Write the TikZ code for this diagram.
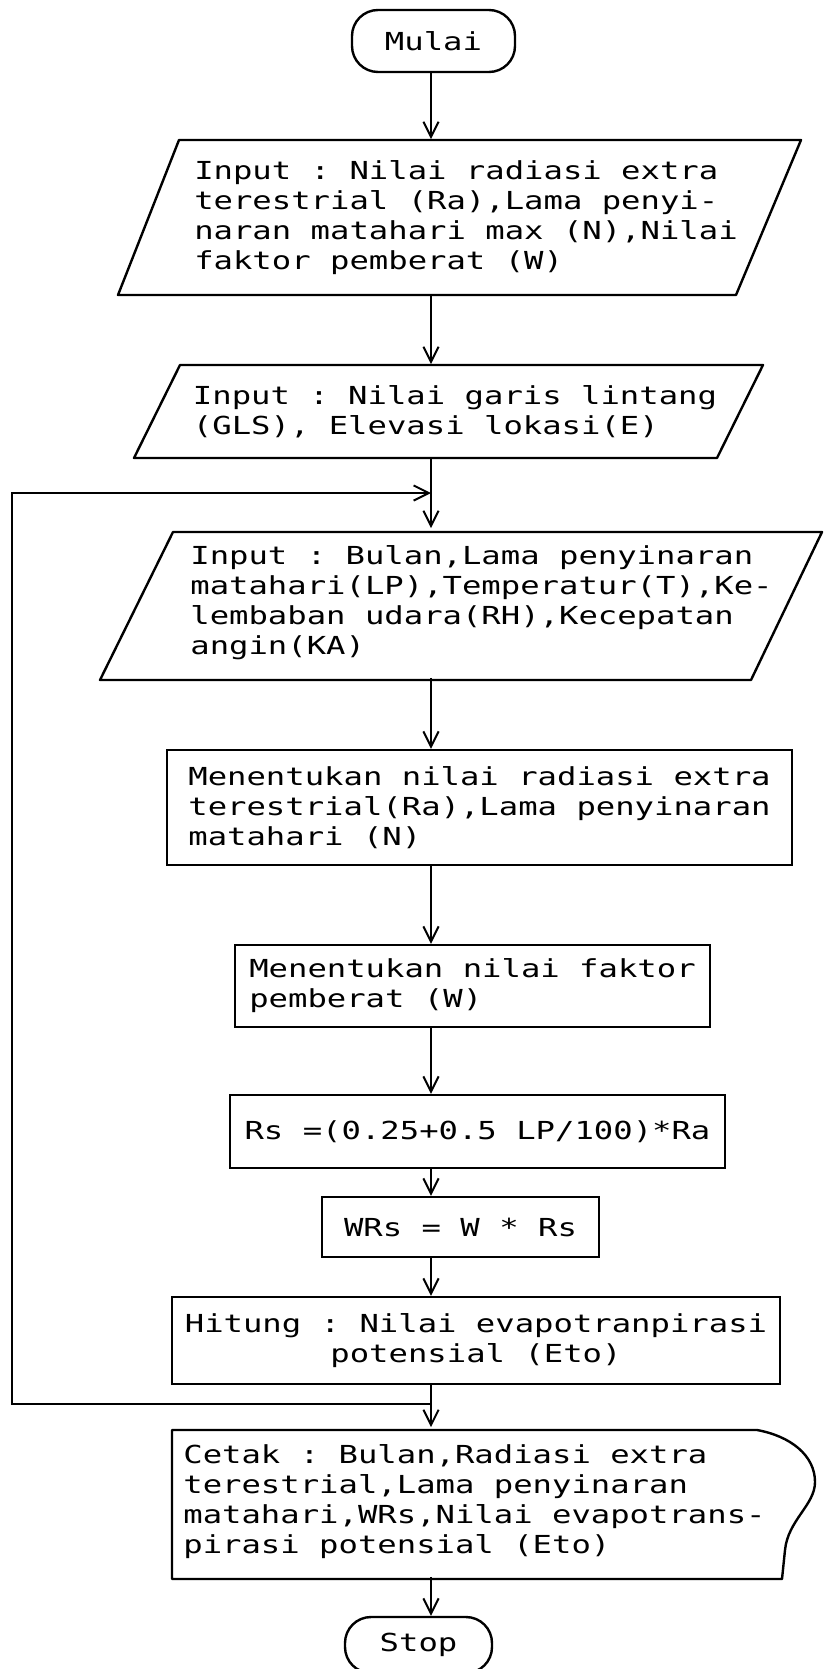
\documentclass[tikz,border=0pt]{standalone}
\usepackage{fontspec}
\setmonofont{DejaVu Sans Mono}[FakeStretch=1.3]
\usetikzlibrary{positioning,calc,arrows.meta}
\setlength{\lineskiplimit}{-\maxdimen}

\begin{document}
\begin{tikzpicture}[
  x=0.25pt, y=-0.25pt,
  font=\fontsize{6.2pt}{7.5pt}\selectfont\ttfamily,
  >={Straight Barb[length=3.8pt,width=3.8pt]},
  term/.style={draw, line width=0.6pt, rectangle, rounded corners=6.5pt, inner sep=0pt},
  proc/.style={draw, line width=0.6pt, rectangle, inner sep=0pt, align=left},
  io/.style={inner sep=0pt, align=left},
  outl/.style={line width=0.6pt, line join=round},
  arr/.style={->, line width=0.5pt},
]

\path[use as bounding box] (0,0) rectangle (824,1669);
\clip (0,0) rectangle (824,1669);

\node[term, minimum width=40.75pt, minimum height=15.5pt] (mulai) at (433.5,41) {Mulai};

\node[io, minimum height=38.75pt] (inp1) at (466,217.5) {Input : Nilai radiasi extra\\terestrial (Ra),Lama penyi-\\naran matahari max (N),Nilai\\faktor pemberat (W)};
\draw[outl] (179,140) -- (801,140) -- (736,295) -- (118,295) -- cycle;

\node[io, minimum height=23.25pt] (inp2) at (455,411.5) {Input : Nilai garis lintang\\(GLS), Elevasi lokasi(E)};
\draw[outl] (180,365) -- (763,365) -- (717,458) -- (134,458) -- cycle;

\node[io, minimum height=37pt] (inp3) at (481.5,603) {Input : Bulan,Lama penyinaran\\matahari(LP),Temperatur(T),Ke-\\lembaban udara(RH),Kecepatan\\angin(KA)};
\draw[outl] (173,532) -- (822,532) -- (751,680) -- (100,680) -- cycle;

\node[proc, minimum width=156.25pt, minimum height=28.75pt] (rad) at (479.5,807.5) {Menentukan nilai radiasi extra\\terestrial(Ra),Lama penyinaran\\matahari (N)};
\node[proc, minimum width=118.75pt, minimum height=20.5pt] (bobot) at (472.5,986) {Menentukan nilai faktor\\pemberat (W)};
\node[proc, minimum width=123.75pt, minimum height=18.25pt] (rs) at (477.5,1131.5) {Rs =(0.25+0.5 LP/100)*Ra};
\node[proc, minimum width=69.25pt, minimum height=15pt] (wrs) at (460.5,1227) {WRs = W * Rs};
\node[proc, align=center, minimum width=152pt, minimum height=21.75pt] (eto) at (476,1340.5) {Hitung : Nilai evapotranpirasi\\potensial (Eto)};

\node[io, minimum height=37pt] (cetak) at (474.5,1502) {Cetak : Bulan,Radiasi extra\\terestrial,Lama penyinaran\\matahari,WRs,Nilai evapotrans-\\pirasi potensial (Eto)};
\draw[outl] (757,1430) -- (172,1430) -- (172,1579) -- (782,1579) -- (785,1550)
  .. controls (788,1520) and (815,1505) .. (815,1482)
  .. controls (815,1455) and (790,1436) .. (757,1430);

\node[term, minimum width=36.75pt, minimum height=14pt] (stop) at (418.5,1645) {Stop};

\coordinate (ax) at (431,0);
\coordinate (lx) at (12,0);
\coordinate (jt) at (431,493);
\coordinate (jb) at (431,1404);

\draw[arr] (mulai.south -| ax) -- (inp1.north -| ax);
\draw[arr] (inp1.south -| ax) -- (inp2.north -| ax);
\draw[arr] (inp2.south -| ax) -- (inp3.north -| ax);
\draw[arr] (inp3.south -| ax) -- (rad.north -| ax);
\draw[arr] (rad.south -| ax) -- (bobot.north -| ax);
\draw[arr] (bobot.south -| ax) -- (rs.north -| ax);
\draw[arr] (rs.south -| ax) -- (wrs.north -| ax);
\draw[arr] (wrs.south -| ax) -- (eto.north -| ax);
\draw[arr] (eto.south -| ax) -- (cetak.north -| ax);
\draw[arr] (cetak.south -| ax) -- (stop.north -| ax);

% loop back to the monthly input
\draw[arr] (jb) -- (jb -| lx) -- (jt -| lx) -- (jt);

\end{tikzpicture}
\end{document}
